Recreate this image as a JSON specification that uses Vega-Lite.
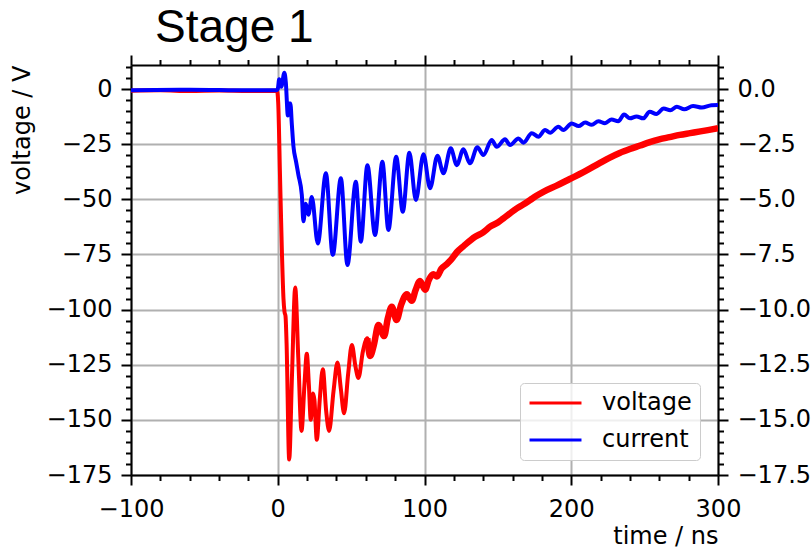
{
  "$schema": "https://vega.github.io/schema/vega-lite/v6.json",
  "width": 587,
  "height": 410,
  "autosize": {"type": "none"},
  "padding": {"left": 131, "top": 65, "right": 93, "bottom": 73},
  "background": "white",
  "title": {"text": "Stage 1", "anchor": "start", "frame": "group", "font": "Liberation Sans", "fontSize": 46, "fontWeight": "normal", "color": "black", "dx": 24, "dy": 56, "baseline": "alphabetic", "offset": 22},
  "datasets": {
    "voltage": [
      {"t": -100, "v": -0.8}, {"t": -80, "v": -0.6}, {"t": -60, "v": -0.9}, {"t": -40, "v": -0.7}, {"t": -20, "v": -0.9}, {"t": -0.5, "v": -0.8},
      {"t": 0.3, "v": -6}, {"t": 1.6, "v": -41}, {"t": 2.8, "v": -73}, {"t": 3.9, "v": -95}, {"t": 4.6, "v": -101}, {"t": 5.3, "v": -103},
      {"t": 6.0, "v": -115}, {"t": 7.8, "v": -168}, {"t": 9.7, "v": -130}, {"t": 11.9, "v": -90}, {"t": 14.0, "v": -122}, {"t": 16.2, "v": -155},
      {"t": 18.2, "v": -134}, {"t": 19.8, "v": -120}, {"t": 21.2, "v": -134}, {"t": 22.5, "v": -150}, {"t": 24.0, "v": -138}, {"t": 25.0, "v": -141},
      {"t": 26.6, "v": -159}, {"t": 28.6, "v": -141}, {"t": 30.7, "v": -127}, {"t": 33.0, "v": -146}, {"t": 35.0, "v": -155}, {"t": 38.0, "v": -137},
      {"t": 40.7, "v": -124}, {"t": 43.0, "v": -136}, {"t": 45.2, "v": -147}, {"t": 48.0, "v": -129}, {"t": 50.5, "v": -116}, {"t": 53.0, "v": -126},
      {"t": 55.0, "v": -131}, {"t": 58.0, "v": -119}, {"t": 61.0, "v": -113}, {"t": 63.0, "v": -121}, {"t": 65.5, "v": -116}, {"t": 68.6, "v": -107},
      {"t": 72.5, "v": -112}, {"t": 75.0, "v": -104}, {"t": 77.7, "v": -98.7}, {"t": 81.0, "v": -104.7}, {"t": 84.0, "v": -98}, {"t": 88.0, "v": -93},
      {"t": 91.3, "v": -96}, {"t": 94.0, "v": -91}, {"t": 97.0, "v": -87}, {"t": 100.4, "v": -91}, {"t": 103.0, "v": -86.5}, {"t": 106.0, "v": -84},
      {"t": 108.5, "v": -85}, {"t": 111.5, "v": -81.5}, {"t": 115.0, "v": -79.5}, {"t": 118.0, "v": -77.5}, {"t": 122.0, "v": -74}, {"t": 127.0, "v": -71},
      {"t": 134.5, "v": -67}, {"t": 140.0, "v": -65}, {"t": 144.7, "v": -62.4}, {"t": 150.0, "v": -60.5}, {"t": 153.8, "v": -58.6}, {"t": 158.0, "v": -56.5},
      {"t": 162.9, "v": -54.1}, {"t": 167.0, "v": -52.5}, {"t": 172.0, "v": -50.3}, {"t": 176.0, "v": -48.5}, {"t": 181.0, "v": -46.6}, {"t": 190.0, "v": -43.8},
      {"t": 199.0, "v": -40.8}, {"t": 208.0, "v": -37.8}, {"t": 219.6, "v": -33.5}, {"t": 226.0, "v": -31.2}, {"t": 233.0, "v": -29}, {"t": 240.0, "v": -27.2},
      {"t": 247.0, "v": -25.6}, {"t": 253.0, "v": -24.2}, {"t": 260.0, "v": -22.8}, {"t": 267.0, "v": -21.8}, {"t": 274.0, "v": -20.8}, {"t": 281.0, "v": -20},
      {"t": 288.0, "v": -19.2}, {"t": 294.0, "v": -18.5}, {"t": 300.0, "v": -17.8}
    ],
    "current": [
      {"t": -100, "i": -0.05}, {"t": -60, "i": -0.03}, {"t": -20, "i": -0.06}, {"t": -1, "i": -0.05}, {"t": 0, "i": 0.0}, {"t": 1, "i": 0.44},
      {"t": 2.4, "i": 0.1}, {"t": 4.5, "i": 0.74}, {"t": 5.5, "i": 0.3}, {"t": 6.9, "i": -1.2}, {"t": 7.8, "i": -0.65}, {"t": 8.6, "i": -0.65},
      {"t": 9.6, "i": -1.6}, {"t": 10.7, "i": -2.6}, {"t": 12.5, "i": -3.3}, {"t": 14.1, "i": -3.9}, {"t": 16.4, "i": -4.8}, {"t": 17.5, "i": -6.0},
      {"t": 19.1, "i": -5.2}, {"t": 20.9, "i": -5.7}, {"t": 23.2, "i": -4.9}, {"t": 27.3, "i": -7.0}, {"t": 32.8, "i": -3.82}, {"t": 37.5, "i": -7.53},
      {"t": 43, "i": -4.05}, {"t": 47.5, "i": -7.98}, {"t": 53.2, "i": -4.2}, {"t": 56.6, "i": -6.92}, {"t": 61.1, "i": -3.45}, {"t": 66.3, "i": -6.62},
      {"t": 71.3, "i": -3.3}, {"t": 75.4, "i": -6.39}, {"t": 80.7, "i": -3.07}, {"t": 85.2, "i": -5.56}, {"t": 89.7, "i": -2.89}, {"t": 94.1, "i": -5.03},
      {"t": 99.3, "i": -2.96}, {"t": 103.8, "i": -4.5}, {"t": 108.8, "i": -3.02}, {"t": 112.9, "i": -3.82}, {"t": 117.9, "i": -2.69}, {"t": 122, "i": -3.45},
      {"t": 126.5, "i": -2.73}, {"t": 131, "i": -3.37}, {"t": 136, "i": -2.64}, {"t": 140.1, "i": -2.99}, {"t": 145.8, "i": -2.31}, {"t": 149.2, "i": -2.62},
      {"t": 154.9, "i": -2.28}, {"t": 158.3, "i": -2.54}, {"t": 164, "i": -2.24}, {"t": 167.4, "i": -2.43}, {"t": 173.1, "i": -2.0}, {"t": 177.6, "i": -2.16},
      {"t": 182.2, "i": -1.86}, {"t": 185.6, "i": -1.98}, {"t": 191.2, "i": -1.71}, {"t": 194.6, "i": -1.86}, {"t": 200.3, "i": -1.56}, {"t": 205, "i": -1.68},
      {"t": 209.5, "i": -1.52}, {"t": 214, "i": -1.62}, {"t": 218.5, "i": -1.46}, {"t": 223, "i": -1.55}, {"t": 227.5, "i": -1.38}, {"t": 232, "i": -1.46},
      {"t": 236, "i": -1.16}, {"t": 240, "i": -1.33}, {"t": 244.5, "i": -1.24}, {"t": 249, "i": -1.33}, {"t": 253.5, "i": -1.03}, {"t": 258, "i": -1.13},
      {"t": 263, "i": -0.88}, {"t": 267.5, "i": -0.96}, {"t": 272, "i": -0.8}, {"t": 277, "i": -0.92}, {"t": 283, "i": -0.77}, {"t": 289, "i": -0.84},
      {"t": 295.5, "i": -0.73}, {"t": 300, "i": -0.72}
    ]
  },
  "layer": [
    {
      "data": {"name": "voltage"},
      "mark": {"type": "line", "strokeWidth": 4, "interpolate": "monotone", "clip": true},
      "encoding": {
        "x": {"field": "t", "type": "quantitative",
          "scale": {"domain": [-100, 300], "nice": false, "zero": false},
          "axis": {"orient": "bottom", "title": "time / ns", "titleAnchor": "end", "titlePadding": 3,
            "values": [-100,-80,-60,-40,-20,0,20,40,60,80,100,120,140,160,180,200,220,240,260,280,300],
            "labelExpr": "datum.value % 100 === 0 ? format(datum.value, 'd') : ''",
            "tickSize": {"condition": {"test": "datum.value % 100 === 0", "value": 10}, "value": 5.5},
            "gridOpacity": {"condition": {"test": "datum.value % 100 === 0", "value": 1}, "value": 0},
            "grid": true, "labelPadding": 12}},
        "y": {"field": "v", "type": "quantitative",
          "scale": {"domain": [-175, 10.9], "nice": false, "zero": false},
          "axis": {"orient": "left", "title": "voltage / V", "titleAnchor": "end", "titlePadding": 12,
            "values": [-175,-170,-165,-160,-155,-150,-145,-140,-135,-130,-125,-120,-115,-110,-105,-100,-95,-90,-85,-80,-75,-70,-65,-60,-55,-50,-45,-40,-35,-30,-25,-20,-15,-10,-5,0,5,10],
            "labelExpr": "datum.value % 25 === 0 ? format(datum.value, 'd') : ''",
            "tickSize": {"condition": {"test": "datum.value % 25 === 0", "value": 10}, "value": 5.5},
            "gridOpacity": {"condition": {"test": "datum.value % 25 === 0", "value": 1}, "value": 0},
            "grid": true, "labelPadding": 9}},
        "color": {"datum": "voltage", "type": "nominal",
          "scale": {"domain": ["voltage", "current"], "range": ["#ff0000", "#0000ff"]},
          "legend": {"orient": "none", "legendX": 389, "legendY": 318, "title": null, "direction": "vertical",
            "symbolType": "stroke", "symbolSize": 2700, "symbolStrokeWidth": 3, "labelFontSize": 24, "labelFont": "DejaVu Sans",
            "labelColor": "black", "labelOffset": 19, "padding": 8, "rowPadding": 13, "clipHeight": 24, "strokeColor": "#cccccc",
            "fillColor": "rgba(255,255,255,0.8)", "cornerRadius": 4}}
      }
    },
    {
      "data": {"name": "voltage"},
      "transform": [{"filter": "datum.t >= 60"}],
      "mark": {"type": "line", "strokeWidth": 6.5, "interpolate": "monotone", "clip": true, "color": "#ff0000"},
      "encoding": {
        "x": {"field": "t", "type": "quantitative", "scale": {"domain": [-100, 300], "nice": false, "zero": false}, "axis": null},
        "y": {"field": "v", "type": "quantitative", "scale": {"domain": [-175, 10.9], "nice": false, "zero": false}, "axis": null}
      }
    },
    {
      "data": {"name": "current"},
      "mark": {"type": "line", "strokeWidth": 4, "interpolate": "monotone", "clip": true},
      "encoding": {
        "x": {"field": "t", "type": "quantitative",
          "scale": {"domain": [-100, 300], "nice": false, "zero": false},
          "axis": {"orient": "top", "title": null, "labels": false, "grid": false,
            "values": [-100,-80,-60,-40,-20,0,20,40,60,80,100,120,140,160,180,200,220,240,260,280,300],
            "tickSize": {"condition": {"test": "datum.value % 100 === 0", "value": 10}, "value": 5.5}}},
        "y": {"field": "i", "type": "quantitative",
          "scale": {"domain": [-17.5, 1.09], "nice": false, "zero": false},
          "axis": {"orient": "right", "title": null, "grid": false,
            "values": [-17.5,-17,-16.5,-16,-15.5,-15,-14.5,-14,-13.5,-13,-12.5,-12,-11.5,-11,-10.5,-10,-9.5,-9,-8.5,-8,-7.5,-7,-6.5,-6,-5.5,-5,-4.5,-4,-3.5,-3,-2.5,-2,-1.5,-1,-0.5,0,0.5,1],
            "labelExpr": "abs(datum.value / 2.5 - round(datum.value / 2.5)) < 0.001 ? format(datum.value, '.1f') : ''",
            "tickSize": {"condition": {"test": "abs(datum.value / 2.5 - round(datum.value / 2.5)) < 0.001", "value": 10}, "value": 5.5},
            "labelPadding": 9}},
        "color": {"datum": "current", "type": "nominal"}
      }
    }
  ],
  "resolve": {"scale": {"y": "independent"}, "axis": {"x": "independent"}},
  "config": {
    "view": {"stroke": null},
    "axis": {
      "domainColor": "black", "domainWidth": 2, "tickColor": "black", "tickWidth": 2,
      "labelFont": "DejaVu Sans", "labelFontSize": 24, "labelColor": "black",
      "titleFont": "DejaVu Sans", "titleFontSize": 24, "titleFontWeight": "normal", "titleColor": "black",
      "gridColor": "#b0b0b0", "gridWidth": 2, "labelFlush": false, "labelOverlap": false
    }
  }
}
